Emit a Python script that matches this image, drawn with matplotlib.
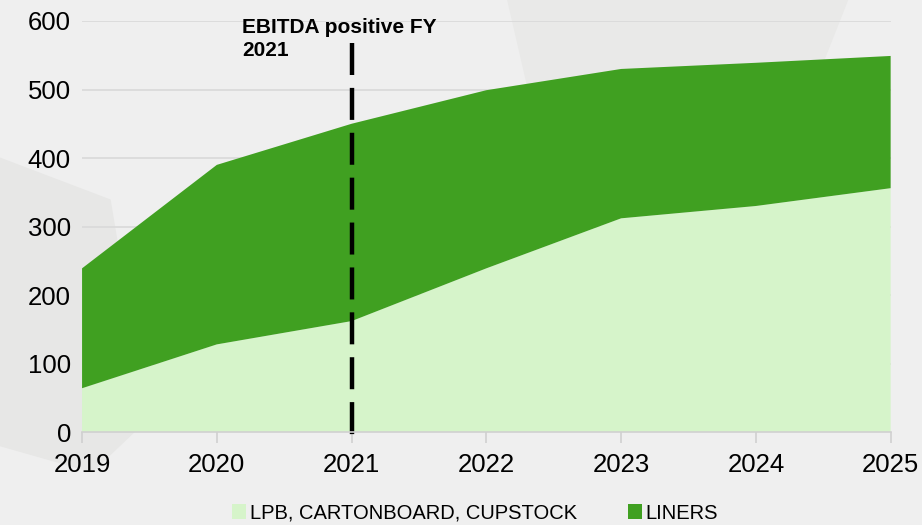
import matplotlib.pyplot as plt
from matplotlib.patches import Polygon

anos = ['2019', '2020', '2021', '2022', '2023', '2024', '2025']
lpb = [64, 128, 162, 239, 312, 330, 356]
liners = [175, 262, 288, 260, 218, 209, 193]

cor_lpb = '#d6f4ca'
cor_liners = '#40a021'

plt.rcParams['font.family'] = ['Liberation Sans', 'DejaVu Sans']

fig = plt.figure(figsize=(9.22, 5.25), dpi=100)
fig.patch.set_facecolor('#efefef')

# fundo com formas suaves (atrás dos eixos)
fundo = fig.add_axes([0, 0, 1, 1], zorder=-1)
fundo.set_xlim(0, 1)
fundo.set_ylim(0, 1)
fundo.axis('off')
fundo.add_patch(Polygon([(0, 0.7), (0.12, 0.62), (0.16, 0.2), (0.1, 0.1), (0, 0.15)],
                        closed=True, facecolor='#e7e7e6', edgecolor='none'))
fundo.add_patch(Polygon([(0.55, 1.0), (0.92, 1.0), (0.83, 0.6), (0.6, 0.62)],
                        closed=True, facecolor='#e9e9e8', edgecolor='none'))

ax = fig.add_axes([0.089, 0.177, 0.877, 0.783])
ax.set_facecolor('none')

x = range(len(anos))
ax.stackplot(x, lpb, liners, colors=[cor_lpb, cor_liners],
             labels=['LPB, CARTONBOARD, CUPSTOCK', 'LINERS'], zorder=2)

# linha EBITDA positivo (desenhada de cima para baixo)
ax.plot([2, 2], [568, -8], color='black', lw=3.2, dashes=(7.2, 2.9), zorder=3,
        clip_on=False)
ax.text(1.19, 604, 'EBITDA positive FY\n2021', fontsize=15, fontweight='bold',
        va='top', ha='left', linespacing=1.25, zorder=4)

ax.set_xlim(0, 6)
ax.set_ylim(0, 600)
ax.set_yticks(range(0, 601, 100))
ax.set_xticks(list(x))
ax.set_xticklabels(anos)
ax.grid(axis='y', color='#d9d9d9', lw=1.2, zorder=1)
ax.set_axisbelow(True)

for lado in ['top', 'right', 'left']:
    ax.spines[lado].set_visible(False)
ax.spines['bottom'].set_color('#d0d0d0')
ax.spines['bottom'].set_linewidth(1.2)
ax.spines['bottom'].set_zorder(5)

ax.tick_params(axis='y', length=0, labelsize=18.5, pad=8)
ax.tick_params(axis='x', length=8, width=1.2, color='#d0d0d0', labelsize=18.5, pad=7)

ax.legend(loc='center', bbox_to_anchor=(0.486, -0.197), ncol=2, frameon=False,
          fontsize=14.5, handlelength=0.7, handleheight=0.7, handletextpad=0.2,
          columnspacing=2.5)

fig.savefig('out.png', dpi=100, facecolor=fig.get_facecolor())
